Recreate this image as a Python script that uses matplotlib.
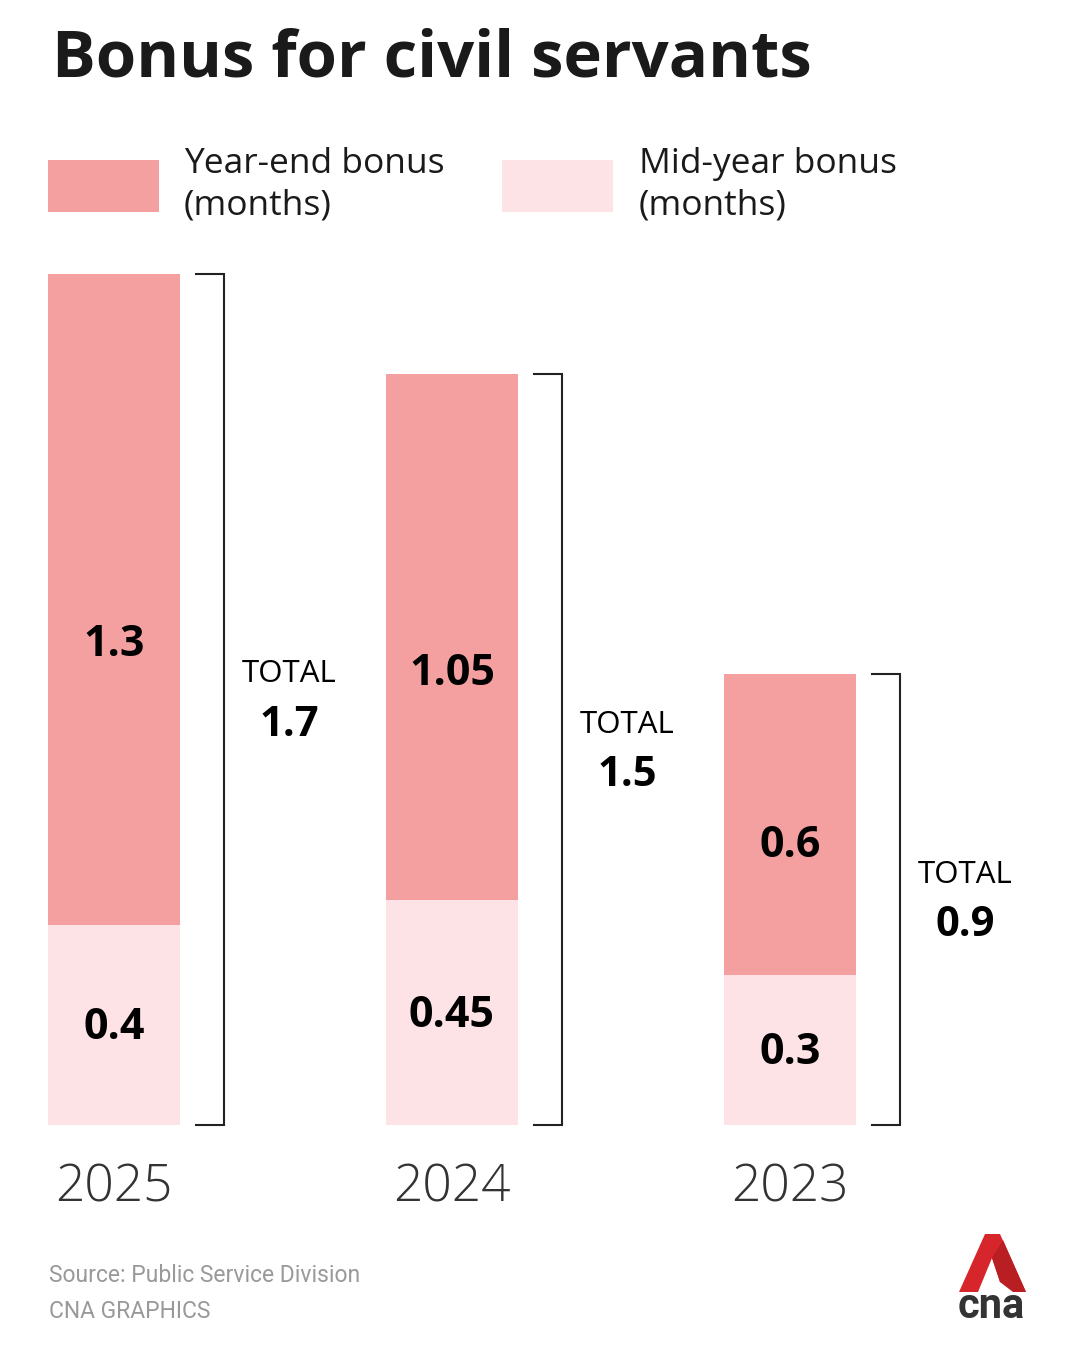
import matplotlib.pyplot as plt
from matplotlib.patches import Polygon

# Data
years = ['2025', '2024', '2023']
mid_year = [0.4, 0.45, 0.3]
year_end = [1.3, 1.05, 0.6]
totals = [1.7, 1.5, 0.9]
mid_labels = ['0.4', '0.45', '0.3']
end_labels = ['1.3', '1.05', '0.6']

end_color = '#F4A0A1'
mid_color = '#FDE3E6'
font = 'Open Sans'

W, H = 1080, 1350
fig = plt.figure(figsize=(W / 100, H / 100), dpi=100)
fig.patch.set_facecolor('white')

# axes: spans full width, y from bar bottom (1125px) to top of tallest bar (274px)
ax = fig.add_axes([0, (H - 1125) / H, 1, (1125 - 274) / H])
ax.set_xlim(-114 / 338, (W - 114) / 338)
ax.set_ylim(0, 1.7)
ax.axis('off')
upx = 1.7 / (1125 - 274)  # data units per pixel

xs = list(range(len(years)))
bw = 132 / 338
ax.bar(xs, mid_year, width=bw, color=mid_color, linewidth=0)
ax.bar(xs, year_end, width=bw, bottom=mid_year, color=end_color, linewidth=0)

for i in xs:
    # segment labels
    ax.text(i, mid_year[i] / 2 - 3 * upx, mid_labels[i], ha='center', va='center',
            fontsize=31, fontweight='bold', family=font, color='black')
    ax.text(i, mid_year[i] + year_end[i] * 0.43, end_labels[i], ha='center', va='center',
            fontsize=31, fontweight='bold', family=font, color='black')
    # bracket
    x0, x1 = i + 0.2426, i + 0.3254
    ax.plot([x0, x1, x1, x0], [totals[i], totals[i], 0, 0], color='#222222', lw=1.5,
            solid_joinstyle='miter', clip_on=False)
    # total
    tx = i + 0.518
    ax.text(tx, totals[i] / 2 + 25 * upx, 'TOTAL', ha='center', va='center', fontsize=22.5,
            family=font, color='black')
    ax.text(tx, totals[i] / 2 - 26 * upx, f'{totals[i]:g}', ha='center', va='center',
            fontsize=30, fontweight='bold', family=font, color='black')
    # year label
    ax.text(i, -63 * upx, years[i], ha='center', va='center', fontsize=37, fontweight='light',
            family=font, color='#333333')

# title
fig.text(52 / W, 1 - 60 / H, 'Bonus for civil servants', ha='left', va='center',
         fontsize=47, fontweight='bold', family=font, color='#1a1a1a')

# legend
fig.patches.append(plt.Rectangle((48 / W, 1 - 212 / H), 111 / W, 52 / H,
                                 transform=fig.transFigure, color=end_color, lw=0))
fig.patches.append(plt.Rectangle((502 / W, 1 - 212 / H), 111 / W, 52 / H,
                                 transform=fig.transFigure, color=mid_color, lw=0))
fig.text(184 / W, 1 - 185 / H, 'Year-end bonus\n(months)', ha='left', va='center',
         fontsize=25.5, family=font, color='#1a1a1a', linespacing=1.3)
fig.text(639 / W, 1 - 185 / H, 'Mid-year bonus\n(months)', ha='left', va='center',
         fontsize=25.5, family=font, color='#1a1a1a', linespacing=1.3)

# footer
fig.text(49 / W, 1 - 1275 / H, 'Source: Public Service Division', ha='left', va='center',
         fontsize=16.5, family='Roboto', color='#999999')
fig.text(49 / W, 1 - 1312 / H, 'CNA GRAPHICS', ha='left', va='center',
         fontsize=16.5, family='Roboto', color='#999999')

# logo
def px(x, y):
    return (x / W, 1 - y / H)

logo_outer = [px(959, 1292), px(985, 1234), px(1000, 1234), px(1026, 1292)]
fig.patches.append(Polygon(logo_outer, closed=True, transform=fig.transFigure,
                           color='#D7262B', lw=0))
notch = [px(978, 1292), px(992, 1258), px(1000, 1282), px(1026, 1292)]
fig.patches.append(Polygon(notch, closed=True, transform=fig.transFigure,
                           color='white', lw=0))
fig.patches.append(Polygon([px(992, 1258), px(1000, 1282), px(1013, 1292), px(1026, 1292), px(1003, 1240)],
                           closed=True, transform=fig.transFigure, color='#B81E22', lw=0))
fig.text(991 / W, 1 - 1307 / H, 'cna', ha='center', va='center', fontsize=30,
         fontweight='bold', family='Roboto', color='#333333')

fig.savefig('out.png', dpi=100, facecolor='white')
